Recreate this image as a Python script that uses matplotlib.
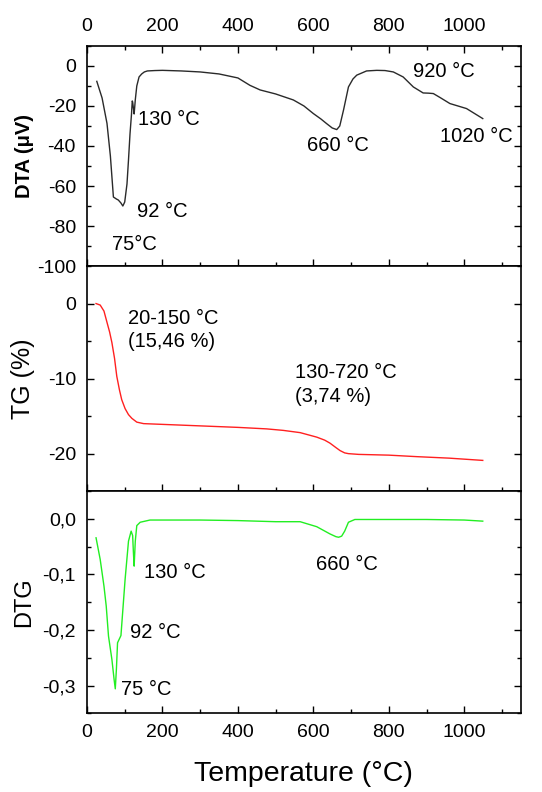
#!/usr/bin/env python3
# -*- coding: utf-8 -*-
"""
Stacked DTA / TG / DTG thermal analysis plot with shared temperature axis.
"""

import matplotlib
matplotlib.use("Agg")
import matplotlib.pyplot as plt
from matplotlib.ticker import MultipleLocator, FuncFormatter

# ---- data (temperature in deg C) ----
dta_temp = [26, 40, 53, 62, 70, 78, 83, 90, 95, 100, 106, 110, 114, 118, 120, 121, 123,
            125, 128, 132, 138, 145, 152, 160, 180, 200, 250, 300, 350, 400, 432, 459,
            500, 547, 575, 600, 620, 635, 650, 662, 670, 680, 693, 705, 715, 741, 768,
            790, 812, 838, 865, 891, 905, 918, 936, 962, 1006, 1049]
dta_uv = [-7.7, -16, -28.7, -45, -65.5, -66.5, -67, -68.5, -70, -68, -59, -47, -34, -24,
          -17.5, -18, -21, -24, -17, -10, -5.5, -4, -3, -2.5, -2.3, -2.2, -2.5, -3, -4,
          -6, -9.7, -12, -14, -17, -20, -23.8, -26.5, -28.8, -31, -31.8, -30, -22, -10.5,
          -6.5, -4.6, -2.5, -2.2, -2.3, -3, -5.5, -10.5, -13.5, -13.6, -13.8, -15.8,
          -18.8, -21.3, -26.3]

tg_temp = [24, 35, 45, 53, 60, 66, 73, 79, 86, 92, 101, 110, 119, 132, 150, 200, 300,
           400, 476, 520, 565, 609, 630, 644, 660, 671, 683, 693, 720, 800, 874, 960, 1049]
tg_pct = [0, -0.2, -1.0, -2.5, -3.8, -5.2, -7.3, -9.7, -11.5, -12.8, -14, -14.8, -15.3,
          -15.8, -16.0, -16.1, -16.3, -16.5, -16.7, -16.9, -17.2, -17.8, -18.2, -18.6,
          -19.2, -19.6, -19.9, -20.0, -20.1, -20.2, -20.4, -20.6, -20.9]

dtg_temp = [24, 35, 45, 51, 57, 66, 72, 75, 78, 81, 90, 101, 110, 117, 121, 123, 125,
            128, 132, 141, 167, 300, 400, 500, 565, 609, 644, 660, 667, 675, 683, 693,
            710, 800, 900, 1000, 1049]
dtg_val = [-0.034, -0.073, -0.121, -0.157, -0.211, -0.253, -0.29, -0.306, -0.27, -0.223,
           -0.21, -0.109, -0.040, -0.022, -0.03, -0.06, -0.085, -0.04, -0.012, -0.006,
           -0.002, -0.002, -0.003, -0.005, -0.005, -0.014, -0.027, -0.032, -0.033,
           -0.031, -0.022, -0.006, -0.001, -0.001, -0.001, -0.002, -0.004]

# peak labels: (text, x, y)
dta_notes = [("130 °C", 136, -27), ("660 °C", 582, -40), ("920 °C", 863, -3),
             ("1020 °C", 936, -35.5), ("92 °C", 132, -72.5), ("75°C", 66, -89)]
tg_notes = [("20-150 °C\n(15,46 %)", 110, -3.5), ("130-720 °C\n(3,74 %)", 551, -10.8)]
dtg_notes = [("130 °C", 150, -0.096), ("660 °C", 607, -0.082),
             ("92 °C", 113, -0.205), ("75 °C", 90, -0.308)]

plt.rcParams["font.family"] = ["Liberation Sans", "DejaVu Sans"]
plt.rcParams["axes.unicode_minus"] = False

NOTE_FS = 14.5
TICK_FS = 14


def style_axis(ax, ymaj, ymin):
    ax.set_xlim(0, 1150)
    ax.xaxis.set_major_locator(MultipleLocator(200))
    ax.xaxis.set_minor_locator(MultipleLocator(100))
    ax.yaxis.set_major_locator(MultipleLocator(ymaj))
    ax.yaxis.set_minor_locator(MultipleLocator(ymin))
    ax.tick_params(which="both", direction="in", left=True, right=True,
                   bottom=True, top=False, labelsize=TICK_FS, pad=8)
    ax.tick_params(which="major", length=5, width=1)
    ax.tick_params(which="minor", length=3, width=1)
    for s in ax.spines.values():
        s.set_linewidth(1.2)


def add_notes(ax, notes):
    for txt, x, y in notes:
        ax.text(x, y, txt, fontsize=NOTE_FS, ha="left", va="center", linespacing=1.3)


def main():
    fig = plt.figure(figsize=(5.42, 7.92), dpi=100)
    gs = fig.add_gridspec(3, 1, left=0.1605, right=0.961, top=0.942, bottom=0.0994,
                          hspace=0, height_ratios=[220, 225, 222])
    ax1 = fig.add_subplot(gs[0])
    ax2 = fig.add_subplot(gs[1], sharex=ax1)
    ax3 = fig.add_subplot(gs[2], sharex=ax1)

    # DTA
    ax1.plot(dta_temp, dta_uv, color="#2a2a2a", lw=1.0)
    ax1.set_ylim(-100, 10)
    style_axis(ax1, 20, 10)
    ax1.tick_params(which="both", top=True, labeltop=True, labelbottom=False)
    ax1.set_ylabel("DTA (μV)", fontsize=14.5, fontweight="bold")
    ax1.yaxis.set_label_coords(-0.122, 0.5)
    add_notes(ax1, dta_notes)

    # TG
    ax2.plot(tg_temp, tg_pct, color="#ff2020", lw=1.0)
    ax2.set_ylim(-25, 5)
    style_axis(ax2, 10, 5)
    ax2.tick_params(labelbottom=False)
    ax2.set_ylabel("TG (%)", fontsize=18)
    ax2.yaxis.set_label_coords(-0.12, 0.5)
    add_notes(ax2, tg_notes)

    # DTG
    ax3.plot(dtg_temp, dtg_val, color="#22ee22", lw=1.0)
    ax3.set_ylim(-0.35, 0.05)
    style_axis(ax3, 0.1, 0.05)
    ax3.yaxis.set_major_formatter(FuncFormatter(lambda v, p: f"{v:.1f}".replace(".", ",")))
    ax3.set_ylabel("DTG", fontsize=17)
    ax3.yaxis.set_label_coords(-0.12, 0.5)
    ax3.set_xlabel("Temperature (°C)", fontsize=20.5, labelpad=14)
    add_notes(ax3, dtg_notes)

    fig.savefig("out.png", dpi=100)


if __name__ == "__main__":
    main()
